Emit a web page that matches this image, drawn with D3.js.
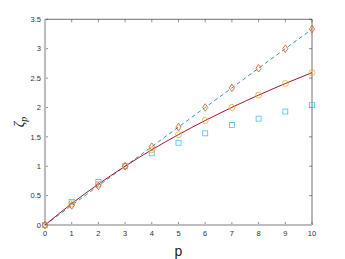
<!DOCTYPE html>
<html><head><meta charset="utf-8">
<script src="https://cdn.jsdelivr.net/npm/d3@7"></script>
<style>body{margin:0;background:#fff}</style>
</head><body><svg id="c" width="345" height="259"></svg>
<script>
const pVals = [0,1,2,3,4,5,6,7,8,9,10];
const k41 = [0,0.333,0.667,1,1.333,1.667,2,2.333,2.667,3,3.333];
const slCircles = [0,0.364,0.696,1,1.28,1.538,1.778,2.001,2.21,2.407,2.593];
const slLine = [0,0.364,0.696,1,1.28,1.538,1.778,2.001,2.21,2.407,2.593];
const squares = [0,0.39,0.73,1,1.22,1.4,1.56,1.7,1.81,1.93,2.04];
const xTicks = [0,1,2,3,4,5,6,7,8,9,10];
const yTicks = [0,0.5,1,1.5,2,2.5,3,3.5];

const svg = d3.select('#c');
const L=45,R=312,T=19.3,B=225;
const x = d3.scaleLinear().domain([0,10]).range([L,R]);
const y = d3.scaleLinear().domain([0,3.5]).range([B,T]);
const font = 'Helvetica, Arial, "Liberation Sans", sans-serif';

// box top/right
svg.append('line').attr('x1',L).attr('x2',R).attr('y1',T).attr('y2',T).attr('stroke','#333').attr('stroke-width',0.7);
svg.append('line').attr('x1',R).attr('x2',R).attr('y1',T).attr('y2',B).attr('stroke','#333').attr('stroke-width',0.7);

// ticks
const tl=3;
xTicks.forEach(t=>{
  svg.append('line').attr('x1',x(t)).attr('x2',x(t)).attr('y1',B).attr('y2',B-tl).attr('stroke','#444').attr('stroke-width',0.6);
  svg.append('line').attr('x1',x(t)).attr('x2',x(t)).attr('y1',T).attr('y2',T+tl).attr('stroke','#444').attr('stroke-width',0.6);
  svg.append('text').attr('x',x(t)).attr('y',B+11).attr('text-anchor','middle').attr('font-family',font).attr('font-size',7.5).attr('fill','#333').text(t);
});
yTicks.forEach(t=>{
  svg.append('line').attr('x1',L).attr('x2',L+tl).attr('y1',y(t)).attr('y2',y(t)).attr('stroke','#444').attr('stroke-width',0.6);
  svg.append('line').attr('x1',R).attr('x2',R-tl).attr('y1',y(t)).attr('y2',y(t)).attr('stroke','#444').attr('stroke-width',0.6);
  svg.append('text').attr('x',L-4).attr('y',y(t)+2.7).attr('text-anchor','end').attr('font-family',font).attr('font-size',7.5).attr('fill','#333').text(t);
});

// left & bottom axis (light gray, thick)
svg.append('line').attr('x1',L).attr('x2',L).attr('y1',T).attr('y2',B+1).attr('stroke','#bdbdbd').attr('stroke-width',2.2);
svg.append('line').attr('x1',L-1).attr('x2',R).attr('y1',B).attr('y2',B).attr('stroke','#bdbdbd').attr('stroke-width',2.2);

// lines
const line = d3.line().x((d,i)=>x(pVals[i])).y(d=>y(d));
svg.append('path').datum(k41).attr('d',line).attr('fill','none').attr('stroke','#3a92b0').attr('stroke-width',1).attr('stroke-dasharray','4,3');
svg.append('path').datum(slLine).attr('d',line.curve(d3.curveNatural)).attr('fill','none').attr('stroke','#a2142f').attr('stroke-width',1);

// squares
svg.selectAll('.sq').data(squares).enter().append('rect')
  .attr('x',(d,i)=>x(pVals[i])-2.5).attr('y',d=>y(d)-2.5).attr('width',5).attr('height',5)
  .attr('fill','none').attr('stroke','#4dbeee').attr('stroke-width',0.8);
// circles
svg.selectAll('.ci').data(slCircles).enter().append('circle')
  .attr('cx',(d,i)=>x(pVals[i])).attr('cy',d=>y(d)).attr('r',3)
  .attr('fill','none').attr('stroke','#edb120').attr('stroke-width',0.8);
// diamonds
svg.selectAll('.di').data(k41).enter().append('path')
  .attr('d',(d,i)=>{const cx=x(pVals[i]),cy=y(d);return `M${cx},${cy-3.8}L${cx+2.6},${cy}L${cx},${cy+3.8}L${cx-2.6},${cy}Z`;})
  .attr('fill','none').attr('stroke','#d95319').attr('stroke-width',0.8);

// labels
svg.append('text').attr('x',(L+R)/2).attr('y',256).attr('text-anchor','middle').attr('font-family',font).attr('font-size',14).attr('fill','#222').text('p');
const yl = svg.append('text').attr('transform','translate(24,122) rotate(-90)').attr('text-anchor','middle').attr('font-family','"Times New Roman","Liberation Serif",serif').attr('font-style','italic').attr('font-size',14).attr('fill','#222');
yl.append('tspan').text('ζ');
yl.append('tspan').attr('font-size',10).attr('dy',3).text('p');
</script></body></html>
